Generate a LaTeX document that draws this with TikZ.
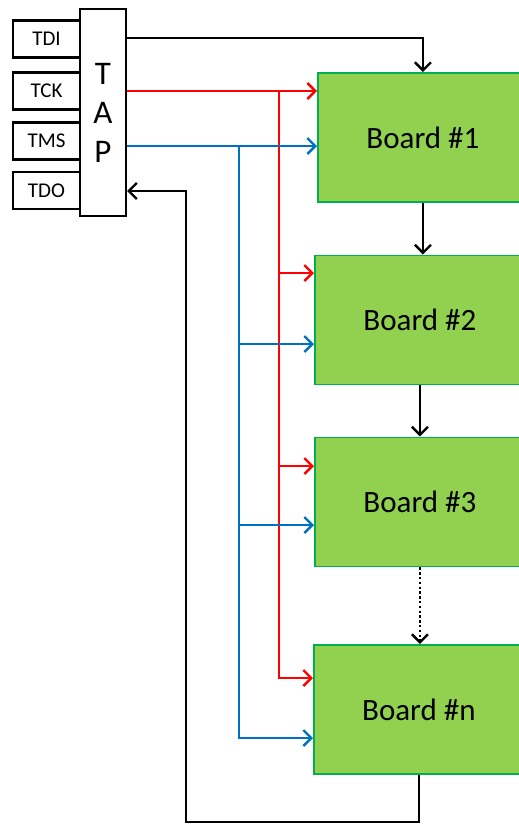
\documentclass[tikz,border=0pt]{standalone}
\usepackage{fontspec}
\setmainfont{Carlito}
\usetikzlibrary{arrows.meta}
\definecolor{boardfill}{RGB}{146,208,80}
\definecolor{boardedge}{RGB}{0,176,80}
\definecolor{tmsblue}{RGB}{0,112,192}
\definecolor{tckred}{RGB}{255,0,0}
\tikzset{
  pin/.style={draw=black, line width=2.2pt, fill=white, minimum width=67pt, minimum height=37pt,
    inner sep=0pt, font=\fontsize{21}{24}\selectfont},
  tapbox/.style={draw=black, line width=2.2pt, fill=white, minimum width=46pt, minimum height=207pt,
    inner sep=0pt, font=\fontsize{33}{39}\selectfont, align=center},
  board/.style={draw=boardedge, line width=1.8pt, fill=boardfill, minimum width=210pt,
    minimum height=129pt, inner sep=0pt, anchor=north west, font=\fontsize{31}{36}\selectfont},
  tip/.style={-{Straight Barb[length=8pt,width=16pt,line width=2.4pt]}},
  wire/.style={line width=2.4pt, black},
  redwire/.style={line width=2.6pt, tckred},
  bluewire/.style={line width=2.6pt, tmsblue},
}
\begin{document}
\begin{tikzpicture}[x=1pt,y=-1pt]
\useasboundingbox (0,0) rectangle (519,825);
\begin{scope}
\clip (0,0) rectangle (519,825);

% JTAG pins and TAP
\node[pin] (tdi) at (46.5,39) {TDI};
\node[pin] (tck) at (46.5,91) {TCK};
\node[pin] (tms) at (46.5,141) {TMS};
\node[pin] (tdo) at (46.5,190.5) {TDO};
\node[tapbox] (tap) at (103,112.5) {T\\A\\P};

% boards in the chain
\node[board] (b1) at (317,72) {Board \#1};
\node[board] (b2) at (314,254.5) {Board \#2};
\node[board] (b3) at (314,436.5) {Board \#3};
\node[board] (bn) at (313,644) {Board \#n};

% port coordinates on the TAP
\coordinate (ptdi) at (tap.east |- 0,38);
\coordinate (ptck) at (tap.east |- 0,91);
\coordinate (ptms) at (tap.east |- 0,146);
\coordinate (ptdo) at (tap.east |- 0,191);

% bus rails
\coordinate (rred) at (279,91);
\coordinate (rblue) at (239,146);

% TDI into the first board
\draw[wire,tip] (ptdi) -| (b1.north);

% daisy chain
\draw[wire,tip] (b1.south) -- (b1.south |- b2.north);
\draw[wire,tip] (b2.south) -- (b2.south |- b3.north);
\draw[wire,tip,dash pattern=on 2.4pt off 2.4pt] (b3.south) -- (b3.south |- bn.north);

% TDO return path
\draw[wire,tip] (bn.south) -- (bn.south |- 0,822) -| (186,191) -- (ptdo);

% TCK (red)
\draw[redwire,tip] (ptck) -- (b1.west |- ptck);
\draw[redwire,tip] (rred) |- (bn.west |- 0,678);
\draw[redwire,tip] (rred |- 0,273) -- (b2.west |- 0,273);
\draw[redwire,tip] (rred |- 0,466) -- (b3.west |- 0,466);

% TMS (blue)
\draw[bluewire,tip] (ptms) -- (b1.west |- ptms);
\draw[bluewire,tip] (rblue) |- (bn.west |- 0,738);
\draw[bluewire,tip] (rblue |- 0,344) -- (b2.west |- 0,344);
\draw[bluewire,tip] (rblue |- 0,525) -- (b3.west |- 0,525);
\end{scope}
\end{tikzpicture}
\end{document}
